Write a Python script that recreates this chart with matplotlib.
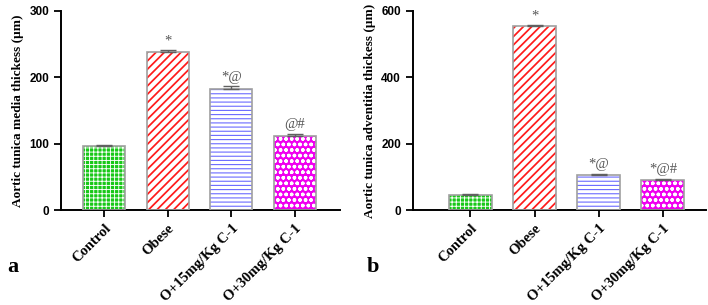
import matplotlib.pyplot as plt
import numpy as np

plt.rcParams['font.family'] = ['Liberation Serif', 'DejaVu Serif']

groups = ['Control', 'Obese', 'O+15mg/Kg C-1', 'O+30mg/Kg C-1']

media_vals = [97, 238.5, 183, 112]
media_err = [1.5, 3, 4, 3]
media_marks = ['', '*', '*@', '@#']

advent_vals = [46, 555, 107, 92]
advent_err = [2, 3, 3, 3]
advent_marks = ['', '*', '*@', '*@#']

faces = ['#18c818', 'white', 'white', '#f000f0']
hatch_cols = ['white', '#ff1a1a', '#6a6aff', 'white']
hatches = ['++++', '////', '----', 'ooo']
hatch_lw = [0.65, 1.25, 0.8, 1.0]


def draw_panel(ax, vals, errs, marks, ymax, ylabel, width, xlim):
    x = np.arange(len(groups))
    for i in range(len(groups)):
        with plt.rc_context({'hatch.linewidth': hatch_lw[i]}):
            ax.bar(x[i], vals[i], width, color=faces[i], edgecolor=hatch_cols[i],
                   hatch=hatches[i], linewidth=0, zorder=2)
        ax.bar(x[i], vals[i], width, fill=False, edgecolor='#a0a0a0',
               linewidth=1.2, zorder=3)
    ax.errorbar(x, vals, yerr=[np.zeros(len(vals)), errs], fmt='none',
                ecolor='#606060', elinewidth=1, capsize=6, capthick=1, zorder=4)
    for i in range(len(groups)):
        if marks[i]:
            ax.text(x[i], vals[i] + errs[i] + ymax * 0.012, marks[i],
                    ha='center', va='bottom', fontsize=10.5, color='#555555')
    ax.set_ylim(0, ymax)
    ax.set_xlim(*xlim)
    ax.set_yticks(np.linspace(0, ymax, 4))
    ax.set_yticklabels([str(int(v)) for v in np.linspace(0, ymax, 4)],
                       family='Liberation Sans', fontweight='bold', fontsize=8.5)
    ax.set_xticks(x)
    ax.set_xticklabels(groups, rotation=45, ha='right', rotation_mode='anchor',
                       fontweight='bold', fontsize=10.5)
    ax.set_ylabel(ylabel, fontweight='bold', fontsize=9.5)
    for s in ['top', 'right']:
        ax.spines[s].set_visible(False)
    for s in ['left', 'bottom']:
        ax.spines[s].set_linewidth(1.4)
    ax.tick_params(axis='both', direction='out', length=5, width=1.3)


fig = plt.figure(figsize=(7.08, 3.05), dpi=100)
ax1 = fig.add_axes([0.0862, 0.311, 0.394, 0.653])
ax2 = fig.add_axes([0.583, 0.311, 0.414, 0.653])

draw_panel(ax1, media_vals, media_err, media_marks, 300,
           'Aortic tunica media thickess (\u00b5m)', 0.66, (-0.675, 3.706))
draw_panel(ax2, advent_vals, advent_err, advent_marks, 600,
           'Aortic tunica adventitia thickess (\u00b5m)', 0.67, (-0.898, 3.67))

fig.text(0.018, 0.125, 'a', fontsize=16, fontweight='bold', ha='center', va='center')
fig.text(0.527, 0.125, 'b', fontsize=16, fontweight='bold', ha='center', va='center')

fig.savefig('out.png', dpi=100)
